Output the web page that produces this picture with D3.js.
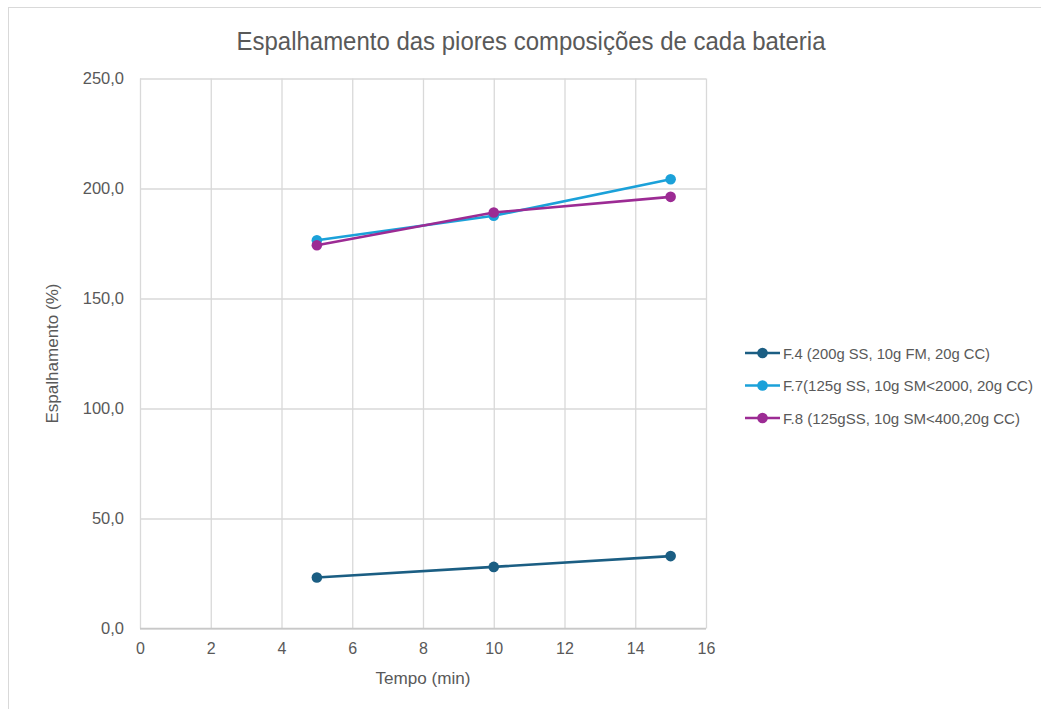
<!DOCTYPE html>
<html>
<head>
<meta charset="utf-8">
<script src="https://cdn.jsdelivr.net/npm/d3@7"></script>
<style>
  html, body { margin: 0; padding: 0; background: #fff; }
  svg { display: block; font-family: "Liberation Sans", Arial, sans-serif; }
</style>
</head>
<body>
<svg id="chart" width="1041" height="709"></svg>
<script>
// Tempo (min) at which each spread was measured
const tempos = [5, 10, 15];

// Espalhamento (%) for each composition
const serieF4 = [23.2, 28.0, 32.9];
const serieF7 = [176.5, 187.6, 204.2];
const serieF8 = [174.2, 189.1, 196.2];

const nomes = [
  "F.4 (200g SS, 10g FM, 20g CC)",
  "F.7(125g SS, 10g SM<2000, 20g CC)",
  "F.8 (125gSS, 10g SM<400,20g CC)"
];
const cores = ["#1b5e83", "#1ba1d9", "#9c2b94"];

const xTicks = [0, 2, 4, 6, 8, 10, 12, 14, 16];
const yTicks = [0, 50, 100, 150, 200, 250];

const series = [serieF4, serieF7, serieF8].map((vals, i) => ({
  nome: nomes[i],
  cor: cores[i],
  pontos: tempos.map((t, j) => ({ x: t, y: vals[j] }))
}));

const svg = d3.select("#chart");
const textColor = "#595959";
const gridColor = "#d9d9d9";

// outer frame
svg.append("rect")
  .attr("x", 8.5).attr("y", 7.5)
  .attr("width", 1100).attr("height", 800)
  .attr("fill", "none").attr("stroke", gridColor).attr("stroke-width", 1);

const plot = { left: 140, right: 706, top: 78.5, bottom: 628.5 };

const x = d3.scaleLinear().domain([0, 16]).range([plot.left, plot.right]);
const y = d3.scaleLinear().domain([0, 250]).range([plot.bottom, plot.top]);

// title
svg.append("text")
  .attr("x", 531).attr("y", 50)
  .attr("text-anchor", "middle")
  .attr("fill", textColor)
  .attr("font-size", 25)
  .attr("textLength", 589)
  .attr("lengthAdjust", "spacingAndGlyphs")
  .text("Espalhamento das piores composições de cada bateria");

// gridlines
const g = svg.append("g");
g.append("g")
  .attr("transform", `translate(0,${plot.bottom})`)
  .call(d3.axisBottom(x).tickValues(xTicks).tickSize(-(plot.bottom - plot.top)).tickFormat(""))
  .call(s => s.select(".domain").remove())
  .call(s => s.selectAll(".tick line").attr("stroke", gridColor).attr("stroke-width", 1.3));

g.append("g")
  .attr("transform", `translate(${plot.left},0)`)
  .call(d3.axisLeft(y).tickValues(yTicks).tickSize(-(plot.right - plot.left)).tickFormat(""))
  .call(s => s.select(".domain").remove())
  .call(s => s.selectAll(".tick line").attr("stroke", gridColor).attr("stroke-width", 1.3));

// bottom axis line
svg.append("line")
  .attr("x1", plot.left).attr("x2", plot.right)
  .attr("y1", y(0)).attr("y2", y(0))
  .attr("stroke", "#c8c8c8").attr("stroke-width", 1.3);

// tick labels
const fmt = d3.format(".1f");
svg.append("g")
  .attr("transform", `translate(0,${plot.bottom})`)
  .call(d3.axisBottom(x).tickValues(xTicks).tickSize(0).tickPadding(14))
  .call(s => s.select(".domain").remove())
  .call(s => s.selectAll("text")
    .attr("fill", textColor).attr("font-size", 16)
    .attr("font-family", "Liberation Sans, Arial, sans-serif"));

svg.append("g")
  .attr("transform", `translate(${plot.left},0)`)
  .call(d3.axisLeft(y).tickValues(yTicks).tickSize(0).tickPadding(16)
    .tickFormat(d => fmt(d).replace(".", ",")))
  .call(s => s.select(".domain").remove())
  .call(s => s.selectAll("text")
    .attr("fill", textColor).attr("font-size", 16.5)
    .attr("font-family", "Liberation Sans, Arial, sans-serif"));

// axis titles
svg.append("text")
  .attr("x", (plot.left + plot.right) / 2).attr("y", 684)
  .attr("text-anchor", "middle").attr("fill", textColor)
  .attr("font-size", 17)
  .attr("textLength", 95).attr("lengthAdjust", "spacingAndGlyphs")
  .text("Tempo (min)");

svg.append("text")
  .attr("transform", `translate(58,${(plot.top + plot.bottom) / 2}) rotate(-90)`)
  .attr("text-anchor", "middle").attr("fill", textColor)
  .attr("font-size", 17)
  .attr("textLength", 140).attr("lengthAdjust", "spacingAndGlyphs")
  .text("Espalhamento (%)");

// series
const line = d3.line().x(d => x(d.x)).y(d => y(d.y));
const sg = svg.append("g").selectAll("g").data(series).join("g");
sg.append("path")
  .attr("d", d => line(d.pontos))
  .attr("fill", "none")
  .attr("stroke", d => d.cor)
  .attr("stroke-width", 2.6)
  .attr("stroke-linejoin", "round");
sg.selectAll("circle")
  .data(d => d.pontos.map(p => ({ ...p, cor: d.cor })))
  .join("circle")
  .attr("cx", d => x(d.x)).attr("cy", d => y(d.y))
  .attr("r", 5.3)
  .attr("fill", d => d.cor);

// legend
const legendWidths = [207, 250, 237];
const lg = svg.append("g").selectAll("g").data(series).join("g")
  .attr("transform", (d, i) => `translate(745,${353 + i * 32.5})`);
lg.append("line")
  .attr("x1", 0).attr("x2", 35).attr("y1", 0).attr("y2", 0)
  .attr("stroke", d => d.cor).attr("stroke-width", 2.6);
lg.append("circle")
  .attr("cx", 17.5).attr("cy", 0).attr("r", 5.3)
  .attr("fill", d => d.cor);
lg.append("text")
  .attr("x", 38).attr("y", 5.5)
  .attr("fill", textColor).attr("font-size", 15.5)
  .attr("textLength", (d, i) => legendWidths[i])
  .attr("lengthAdjust", "spacingAndGlyphs")
  .text(d => d.nome);
</script>
</body>
</html>
